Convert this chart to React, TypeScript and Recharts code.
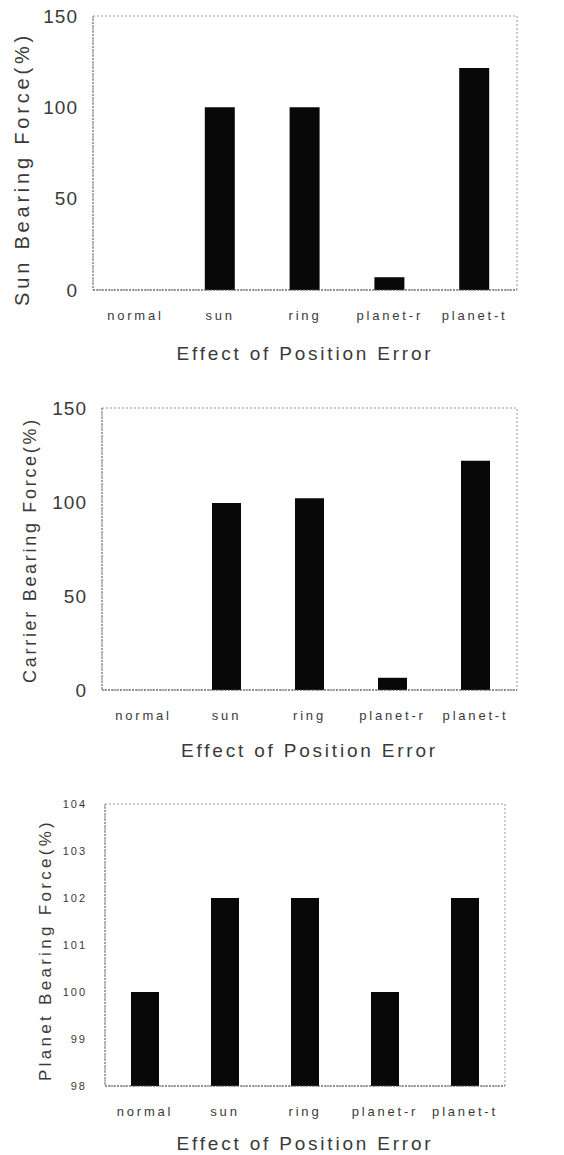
import { BarChart, Bar, XAxis, YAxis, ReferenceArea } from 'recharts'

const categories = ['normal', 'sun', 'ring', 'planet-r', 'planet-t']
const sunForce = [0, 100, 100, 7, 121.5]
const carrierForce = [0, 99.5, 102, 6.5, 122]
const planetForce = [100, 102, 102, 100, 102]
const forceTicks = [0, 50, 100, 150]
const planetTicks = [98, 99, 100, 101, 102, 103, 104]
const xTitle = 'Effect of Position Error'

const FONT = '"Liberation Sans", Arial, sans-serif'
const INK = '#3a3a3a'

interface PanelProps {
  values: number[]
  yTitle: string
  ticks: number[]
  top: number
  height: number
  plotTop: number
  plotLeft: number
  plotRight: number
  xAxisHeight: number
  yTickSize: number
  yTickGap: number
  yTitleX: number
  yTitleShift: number
  yTitleSize: number
  yTitleSpacing: number
  xTitleDrop: number
  barSize: number
}

function Panel(p: PanelProps) {
  const data = categories.map((c, i) => ({ name: c, value: p.values[i] }))
  const lo = p.ticks[0]
  const hi = p.ticks[p.ticks.length - 1]

  const yTitle = (props: any) => {
    const vb = props.viewBox || { y: p.plotTop, height: p.height - p.plotTop - p.xAxisHeight }
    const cy = vb.y + vb.height / 2 + p.yTitleShift
    return (
      <text
        x={p.yTitleX}
        y={cy}
        transform={`rotate(-90 ${p.yTitleX} ${cy})`}
        textAnchor="middle"
        dominantBaseline="central"
        fill={INK}
        fontSize={p.yTitleSize}
        letterSpacing={p.yTitleSpacing}
        fontFamily={FONT}
      >
        {p.yTitle}
      </text>
    )
  }

  const xTitleLabel = (props: any) => {
    const vb = props.viewBox || { x: p.plotLeft, y: p.height - p.xAxisHeight, width: 564 - p.plotLeft - p.plotRight }
    return (
      <text
        x={vb.x + vb.width / 2}
        y={vb.y + p.xTitleDrop}
        textAnchor="middle"
        dominantBaseline="central"
        fill={INK}
        fontSize={19}
        letterSpacing={2.8}
        fontFamily={FONT}
      >
        {xTitle}
      </text>
    )
  }

  return (
    <div style={{ position: 'absolute', left: 0, top: p.top }}>
      <BarChart
        width={564}
        height={p.height}
        data={data}
        margin={{ top: p.plotTop, right: p.plotRight, left: 0, bottom: 0 }}
        barSize={p.barSize}
      >
        <XAxis
          dataKey="name"
          height={p.xAxisHeight}
          tickLine={false}
          tickSize={0}
          tickMargin={21}
          axisLine={{ stroke: '#555', strokeDasharray: '2 1' }}
          tick={{ fontSize: 13, fill: INK, fontFamily: FONT, letterSpacing: 2.8 }}
          interval={0}
          label={{ content: xTitleLabel }}
        />
        <YAxis
          type="number"
          domain={[lo, hi]}
          ticks={p.ticks}
          width={p.plotLeft}
          tickLine={false}
          tickSize={0}
          tickMargin={p.yTickGap}
          axisLine={{ stroke: '#777', strokeDasharray: '2 1' }}
          tick={{ fontSize: p.yTickSize, fill: INK, fontFamily: FONT, letterSpacing: p.yTickSize > 14 ? 1 : 2 }}
          allowDataOverflow
          label={{ content: yTitle }}
        />
        <ReferenceArea
          x1="normal"
          x2="planet-t"
          y1={lo}
          y2={hi}
          fill="none"
          stroke="#999"
          strokeDasharray="2 2"
          ifOverflow="visible"
        />
        <Bar dataKey="value" fill="#080808" isAnimationActive={false} />
      </BarChart>
    </div>
  )
}

export default function App() {
  return (
    <div style={{ position: 'absolute', left: 0, top: 0, width: 564, height: 1155, background: '#fff' }}>
      <Panel
        values={sunForce}
        yTitle="Sun Bearing Force(%)"
        ticks={forceTicks}
        top={0}
        height={380}
        plotTop={16}
        plotLeft={93}
        plotRight={47}
        xAxisHeight={90}
        yTickSize={19}
        yTickGap={15}
        yTitleX={22}
        yTitleShift={16}
        yTitleSize={20}
        yTitleSpacing={3.8}
        xTitleDrop={63}
        barSize={30}
      />
      <Panel
        values={carrierForce}
        yTitle="Carrier Bearing Force(%)"
        ticks={forceTicks}
        top={390}
        height={380}
        plotTop={18}
        plotLeft={102}
        plotRight={47}
        xAxisHeight={80}
        yTickSize={19}
        yTickGap={15}
        yTitleX={30}
        yTitleShift={1}
        yTitleSize={18}
        yTitleSpacing={2.7}
        xTitleDrop={60}
        barSize={29}
      />
      <Panel
        values={planetForce}
        yTitle="Planet Bearing Force(%)"
        ticks={planetTicks}
        top={770}
        height={385}
        plotTop={34}
        plotLeft={105}
        plotRight={59}
        xAxisHeight={69}
        yTickSize={11}
        yTickGap={18}
        yTitleX={45}
        yTitleShift={5}
        yTitleSize={17}
        yTitleSpacing={3.3}
        xTitleDrop={57}
        barSize={28}
      />
    </div>
  )
}
